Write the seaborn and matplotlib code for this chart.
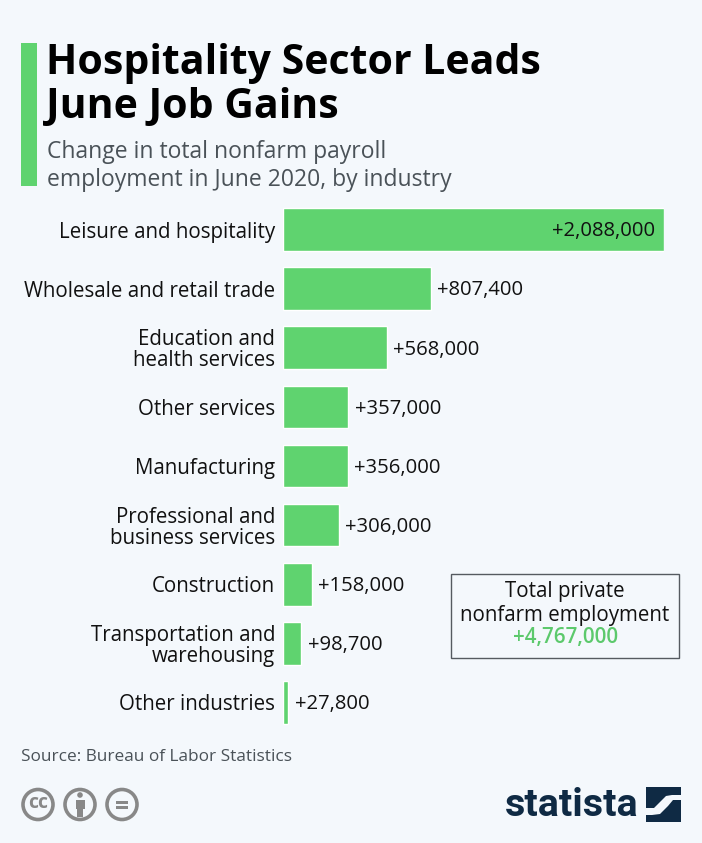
import pandas as pd
import matplotlib
matplotlib.use('Agg')  # Use non-interactive backend to avoid Tkinter issues
import matplotlib.pyplot as plt
import matplotlib.patches as patches
import seaborn as sns


class VisualizeResults:
    def __init__(self):
        """
        Initialize the VisualizeResults class with data.
        """
        self.green = '#5fd36f'
        self.background = '#f4f8fc'
        self.data_jobs = pd.DataFrame({
            'Industry': [
                'Leisure and hospitality', 'Wholesale and retail trade',
                'Education and\nhealth services', 'Other services', 'Manufacturing',
                'Professional and\nbusiness services', 'Construction',
                'Transportation and\nwarehousing', 'Other industries',
            ],
            'Change': [2088000, 807400, 568000, 357000, 356000, 306000, 158000, 98700, 27800],
        })

    def create_bar_diagram(self, data):
        """
        Create the bar diagram for the given data

        Args:
            data: DataFrame containing the data
        """
        sns.set_theme(style="white", rc={'figure.facecolor': self.background, 'axes.facecolor': 'none'})
        plt.rcParams['font.family'] = ['Open Sans', 'DejaVu Sans']

        fig = plt.figure(figsize=(7.02, 8.43), dpi=100)
        chart = fig.add_axes([283.4 / 702, 1 - 732 / 843, 380.6 / 702, 532 / 843])
        sns.barplot(
            data=data,
            x='Change',
            y='Industry',
            color=self.green,
            saturation=1,
            width=0.72,
            ax=chart,
        )

        chart.set_xlim(0, 2088000)
        chart.set_xlabel("")
        chart.set_ylabel("")
        chart.set_xticks([])
        chart.tick_params(axis='y', length=0, pad=5.8, labelsize=14.8, labelcolor='#111111')
        for label in chart.get_yticklabels():
            label.set_linespacing(1.0)
        sns.despine(ax=chart, left=True, bottom=True)

        # Values sit outside the bars, apart from the longest one
        for i, value in enumerate(data['Change']):
            if value > 1500000:
                chart.text(value - 48000, i + 0.03, f"+{value:,}", ha='right', va='center', fontsize=14.6, color='#111111')
            else:
                chart.text(value + 34000, i + 0.03, f"+{value:,}", ha='left', va='center', fontsize=14.6, color='#111111')

        return fig

    def add_decorations(self, fig):
        """
        Add the title block, the total box and the footer in pixel coordinates

        Args:
            fig: Figure to draw on
        """
        overlay = fig.add_axes([0, 0, 1, 1], zorder=5)
        overlay.set_xlim(0, 702)
        overlay.set_ylim(843, 0)
        overlay.axis('off')

        # Title block
        overlay.add_patch(patches.Rectangle((21, 43), 16, 143, color=self.green, lw=0))
        overlay.text(46, 63, "Hospitality Sector Leads", fontsize=29.5, fontweight='bold', color='black', va='center')
        overlay.text(46, 108, "June Job Gains", fontsize=29.5, fontweight='bold', color='black', va='center')
        overlay.text(47, 152, "Change in total nonfarm payroll", fontsize=16.5, color='#4a5258', va='center')
        overlay.text(47, 180, "employment in June 2020, by industry", fontsize=16.5, color='#4a5258', va='center')

        # Total box
        overlay.add_patch(patches.Rectangle((451, 573.5), 228, 84, fill=False, edgecolor='#555a60', lw=1))
        overlay.text(565, 592, "Total private", fontsize=14.8, color='#111111', ha='center', va='center')
        overlay.text(565, 615, "nonfarm employment", fontsize=14.8, color='#111111', ha='center', va='center')
        overlay.text(566, 638, "+4,767,000", fontsize=14.8, fontweight='semibold', color='#5cc96c', ha='center', va='center')

        # Footer
        overlay.text(21, 757, "Source: Bureau of Labor Statistics", fontsize=12.45, color='#4a5258', va='center')
        for x in [38, 80, 122]:
            overlay.add_patch(patches.Circle((x, 804.5), 15, fill=False, edgecolor='#888888', lw=2.6))
        overlay.text(38, 803, "cc", fontsize=14, fontweight='bold', color='#888888', ha='center', va='center')
        overlay.add_patch(patches.Circle((80, 795), 2.8, color='#888888', lw=0))
        overlay.add_patch(patches.Rectangle((75.5, 799.5), 9, 9, color='#888888', lw=0))
        overlay.add_patch(patches.Rectangle((77, 808), 6, 9, color='#888888', lw=0))
        overlay.add_patch(patches.Rectangle((116, 800.5), 12, 3.2, color='#888888', lw=0))
        overlay.add_patch(patches.Rectangle((116, 806), 12, 3.2, color='#888888', lw=0))

        overlay.text(505, 805, "statista", fontsize=28.4, fontweight='bold', family='Roboto', color='#0f2a44', va='center')
        overlay.add_patch(patches.Rectangle((646, 787), 35, 35, color='#0f2a44', lw=0))
        overlay.add_patch(patches.Polygon(
            [(646, 808), (654, 808), (660, 802), (666, 796), (672, 795), (681, 795), (681, 800),
             (673, 800), (668, 806), (660, 814), (652, 815), (646, 815)],
            color=self.background, lw=0))

    def run(self):
        """
        Run the visualization process
        """
        fig = self.create_bar_diagram(self.data_jobs)
        self.add_decorations(fig)

        # Save the plot instead of printing it
        plt.savefig('out.png', dpi=100)
        plt.close()


def main():
    """
    Main function to run the visualization
    """
    visualizer = VisualizeResults()
    visualizer.run()


if __name__ == "__main__":
    main()
